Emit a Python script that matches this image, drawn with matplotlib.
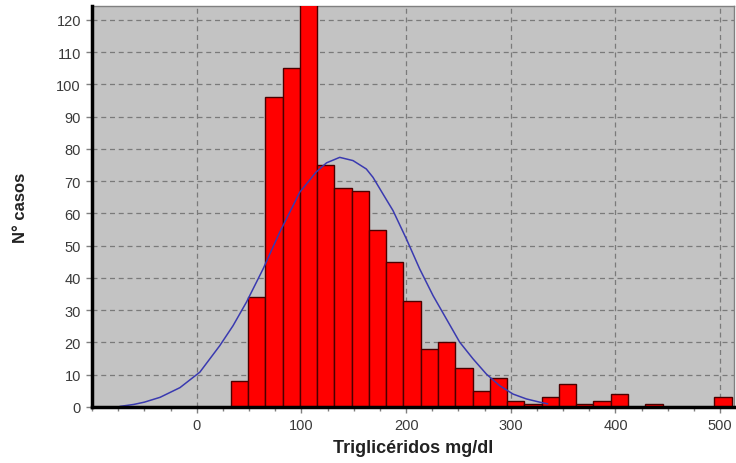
import numpy as np
import matplotlib
matplotlib.use("Agg")
import matplotlib.pyplot as plt
from matplotlib.ticker import MultipleLocator

# histogram of triglyceride values (bin width 16.5 mg/dl)
BIN_START = 32.5
BIN_WIDTH = 16.5
COUNTS = [8, 34, 96, 105, 126, 75, 68, 67, 55, 45, 33, 18, 20, 12, 5,
          9, 2, 1, 3, 7, 1, 2, 4, 0, 1, 0, 0, 0, 3]

# fitted normal curve
CURVE_X = [-73, -60, -50, -35, -16, 3, 22, 34.7, 47.5, 63.4, 79.3, 92, 98.4,
           114, 124, 136.6, 149.3, 162, 168.4, 178, 187.5, 200.3, 213, 225.8,
           238.5, 251.2, 264, 276.7, 289.4, 302.2, 314.9, 327.6, 335]
CURVE_Y = [0.2, 0.8, 1.5, 3.0, 6.0, 10.8, 19.0, 25.2, 32.5, 42.8, 54.2, 62.4, 66.6,
           72.8, 75.7, 77.4, 76.4, 73.8, 71.2, 66.0, 60.9, 52.1, 42.8, 34.5,
           27.3, 20.1, 14.9, 10.2, 6.6, 4.0, 2.5, 1.5, 1.0]

X_TICKS = [0, 100, 200, 300, 400, 500]
Y_TICKS = list(range(0, 121, 10))

plt.rcParams["font.family"] = ["Liberation Sans", "DejaVu Sans"]

fig = plt.figure(figsize=(7.36, 4.64), dpi=100)
ax = fig.add_axes([0.125, 0.1207, 0.872, 0.864])
ax.set_facecolor("#c3c3c3")

lefts = BIN_START + BIN_WIDTH * np.arange(len(COUNTS))
ax.bar(lefts, COUNTS, width=BIN_WIDTH, align="edge", color="#ff0000",
       edgecolor="#4a0000", linewidth=1.0, zorder=3)
ax.plot(CURVE_X, CURVE_Y, color="#3a3ab0", linewidth=1.1, zorder=4)

ax.set_xlim(-100, 513)
ax.set_ylim(0, 124.3)
ax.set_xticks(X_TICKS)
ax.set_yticks(Y_TICKS)
ax.xaxis.set_minor_locator(MultipleLocator(25))

ax.grid(True, which="major", color="#7a7a7a", linestyle=(0, (4, 3)),
        linewidth=0.9, zorder=1)
ax.set_axisbelow(True)

for side in ("top", "right"):
    ax.spines[side].set_color("#808080")
    ax.spines[side].set_linewidth(1.0)
for side in ("left", "bottom"):
    ax.spines[side].set_color("black")
    ax.spines[side].set_linewidth(2.5)
    ax.spines[side].set_zorder(5)

ax.tick_params(axis="both", which="major", length=4, width=1, color="#808080",
               labelsize=10.5, labelcolor="#3a3a3a", pad=4)
ax.tick_params(axis="x", which="minor", length=3, width=1, color="#808080")

ax.set_xlabel("Triglicéridos mg/dl", fontsize=13, fontweight="bold",
              color="#222222", labelpad=5)
ax.set_ylabel("N° casos", fontsize=12, fontweight="bold", color="#222222",
              labelpad=20)

fig.savefig("out.png", dpi=100)
